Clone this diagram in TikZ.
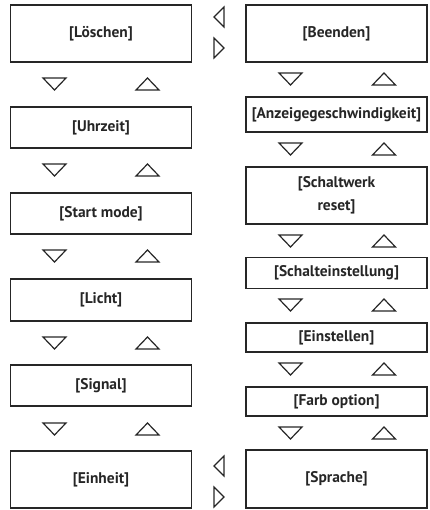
\documentclass[tikz,border=0pt]{standalone}
\usepackage{fontspec}
\setmainfont{PT Sans}
\begin{document}
\begin{tikzpicture}[x=1bp,y=-1bp,
  box/.style={draw=black!85,line width=1.2bp,minimum width=181bp,inner sep=0pt,align=center,font=\fontsize{15.5}{23}\selectfont\bfseries,text=black!85},
  tri/.style={draw=black!85,line width=1.2bp,line join=miter}]
\useasboundingbox (0,0) rectangle (429,510);
\def\dn#1#2{\draw[tri] (#1-11.5,#2-6) -- (#1+11.5,#2-6) -- (#1,#2+6) -- cycle;}
\def\up#1#2{\draw[tri] (#1-11.5,#2+6) -- (#1+11.5,#2+6) -- (#1,#2-6) -- cycle;}
\def\lt#1#2{\draw[tri] (#1+5,#2-10) -- (#1+5,#2+10) -- (#1-5,#2) -- cycle;}
\def\rt#1#2{\draw[tri] (#1-5,#2-10) -- (#1-5,#2+10) -- (#1+5,#2) -- cycle;}
% left column
\node[box,minimum height=57bp] (l1) at (101,33.5) {[Löschen]};
\node[box,minimum height=41bp] (l2) at (101,127.5) {[Uhrzeit]};
\node[box,minimum height=41bp] (l3) at (101,213.5) {[Start mode]};
\node[box,minimum height=42bp] (l4) at (101,300) {[Licht]};
\node[box,minimum height=41bp] (l5) at (101,385.5) {[Signal]};
\node[box,minimum height=57bp] (l6) at (101,479.5) {[Einheit]};
% right column
\node[box,minimum height=57bp] (r1) at (336.5,33.5) {[Beenden]};
\node[box,minimum height=35bp] (r2) at (336.5,114.5) {[Anzeigegeschwindigkeit]};
\node[box,minimum height=57bp] (r3) at (336.5,195.5) {[Schaltwerk\\reset]};
\node[box,minimum height=31bp] (r4) at (336.5,273) {[Schalteinstellung]};
\node[box,minimum height=29bp] (r5) at (336.5,337.5) {[Einstellen]};
\node[box,minimum height=29bp] (r6) at (336.5,401.5) {[Farb option]};
\node[box,minimum height=58bp] (r7) at (336.5,479) {[Sprache]};
% left triangles
\foreach \y in {84,170,256,343,429}{\dn{54.5}{\y}\up{147.5}{\y}}
% right triangles
\foreach \y in {79,149,241,305,369,433}{\dn{290.5}{\y}\up{384}{\y}}
% side triangles
\lt{219}{17}\rt{219}{48}
\lt{219}{466}\rt{219}{497}
\end{tikzpicture}
\end{document}
